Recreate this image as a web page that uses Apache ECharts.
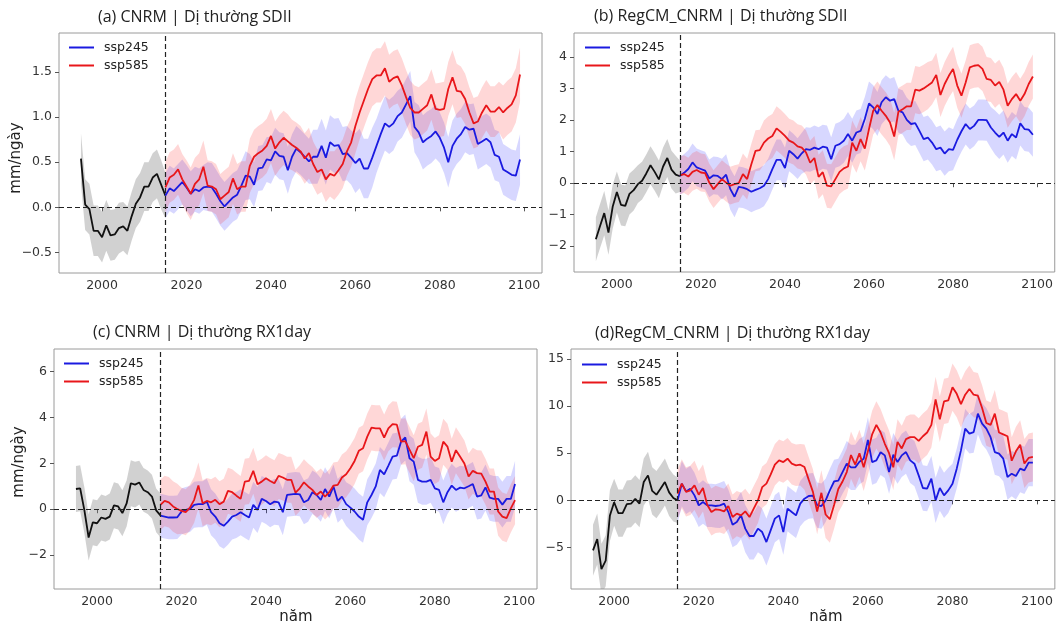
<!DOCTYPE html>
<html><head><meta charset="utf-8">
<script src="https://cdn.jsdelivr.net/npm/echarts@6/dist/echarts.min.js"></script>
<style>html,body{margin:0;padding:0;background:#fff}#c{width:1056px;height:625px}</style>
</head><body><div id="c"></div>
<script>
function range(a,b){const r=[];for(let y=a;y<=b;y++)r.push(y);return r;}
const histYears = range(1995, 2015);
const projYears = range(2015, 2099);
const xTicks = [2000, 2020, 2040, 2060, 2080, 2100];

// ---------- (a) CNRM | SDII ----------
const a_hist = [0.54,0.03,-0.02,-0.26,-0.26, -0.33,-0.2,-0.31,-0.3,-0.23, -0.21,-0.26,-0.1,0.04,0.11, 0.23,0.23,0.33,0.37,0.25, 0.13];
const a_ssp245 = [
 0.13,0.21,0.18,0.23,0.28, 0.22,0.15,0.2,0.18,0.22, 0.23,0.22,0.15,0.07,0.01, 0.06,0.11,0.14,0.24,0.35,
 0.34,0.25,0.43,0.44,0.53, 0.52,0.62,0.57,0.56,0.41, 0.56,0.65,0.61,0.56,0.51, 0.56,0.56,0.68,0.55,0.72,
 0.68,0.69,0.59,0.6,0.55, 0.49,0.54,0.43,0.43,0.55, 0.68,0.81,0.93,0.89,0.93, 1.01,1.05,1.14,1.23,0.89,
 0.83,0.72,0.76,0.79,0.84, 0.77,0.66,0.5,0.68,0.76, 0.81,0.89,0.86,0.87,0.7, 0.73,0.76,0.72,0.58,0.56,
 0.42,0.39,0.36,0.35,0.53];
const a_ssp585 = [
 0.22,0.33,0.36,0.42,0.31, 0.23,0.15,0.26,0.31,0.45, 0.24,0.23,0.2,0.09,0.13, 0.17,0.32,0.2,0.23,0.23,
 0.46,0.56,0.6,0.63,0.68, 0.79,0.65,0.72,0.77,0.73, 0.69,0.66,0.62,0.54,0.6, 0.48,0.39,0.42,0.31,0.37,
 0.35,0.41,0.48,0.62,0.72, 0.9,1.05,1.18,1.31,1.42, 1.46,1.46,1.54,1.39,1.43, 1.45,1.35,1.22,1.1,1.05,
 1.05,1.09,1.13,1.25,1.09, 1.08,1.09,1.31,1.44,1.29, 1.28,1.2,1.05,0.93,0.95, 1.05,1.13,1.06,1.06,1.11,
 1.05,1.1,1.14,1.24,1.47];
// half-width of the shaded range, one value per 5-year block
const a_histSpread = [0.28,0.28,0.27,0.27,0.25];
const a_ssp245Spread = [0.25,0.25,0.27,0.27,0.25,0.26,0.25,0.3,0.3,0.33,0.3,0.28,0.3,0.28,0.28,0.28,0.28];
const a_ssp585Spread = [0.28,0.29,0.28,0.28,0.3,0.3,0.28,0.25,0.27,0.3,0.3,0.3,0.28,0.3,0.28,0.28,0.3];
const a_yTicks = [-0.5, 0, 0.5, 1, 1.5];

// ---------- (b) RegCM_CNRM | SDII ----------
const b_hist = [-1.78,-1.36,-0.95,-1.57,-0.75, -0.28,-0.69,-0.72,-0.34,-0.22, -0.03,0.08,0.31,0.57,0.36, 0.12,0.53,0.8,0.43,0.27, 0.22];
const b_ssp245 = [
 0.23,0.33,0.45,0.66,0.5, 0.45,0.4,0.15,0.25,0.23, 0.13,0.27,-0.19,-0.43,-0.12, -0.14,-0.19,-0.27,-0.21,-0.16,
 -0.08,0.13,0.45,0.74,0.74, 0.48,1.03,0.92,0.78,0.95, 1.08,1.06,1.13,1.08,1.16, 1.13,0.76,1.19,1.24,1.35,
 1.56,1.35,1.61,1.66,2.04, 2.53,2.41,2.2,2.57,2.73, 2.62,2.67,2.3,2.25,2.01, 1.88,1.91,1.66,1.4,1.45,
 1.29,1.08,1.13,0.94,1.08, 1.06,1.38,1.65,1.88,1.72, 1.82,2.01,2.01,2.0,1.77, 1.61,1.47,1.61,1.35,1.56,
 1.45,1.9,1.72,1.7,1.54];
const b_ssp585 = [
 0.25,0.29,0.21,0.36,0.42, 0.34,0.32,0.02,-0.19,-0.03, 0.13,0.02,-0.08,-0.03,0.0, 0.29,0.13,0.6,1.03,1.05,
 1.29,1.42,1.5,1.74,1.63, 1.5,1.35,1.29,1.17,1.13, 0.98,0.65,0.8,0.2,0.35, -0.08,-0.1,0.13,0.36,0.47,
 0.53,1.29,1.03,1.4,1.1, 1.72,2.3,2.48,2.3,2.14, 1.93,1.48,2.27,2.35,2.44, 2.44,2.97,2.94,3.01,3.1,
 3.2,3.44,2.8,3.15,3.41, 3.63,3.1,2.78,3.2,3.68, 3.73,3.75,3.63,3.31,3.28, 3.1,3.22,2.97,2.46,2.67,
 2.83,2.62,2.83,3.15,3.39];
const b_histSpread = [0.7,0.65,0.6,0.6,0.5];
const b_ssp245Spread = [0.6,0.6,0.65,0.65,0.65,0.65,0.7,0.7,0.7,0.7,0.7,0.7,0.7,0.65,0.65,0.7,0.7];
const b_ssp585Spread = [0.6,0.6,0.6,0.65,0.7,0.7,0.7,0.7,0.7,0.75,0.75,0.75,0.7,0.7,0.7,0.7,0.7];
const b_yTicks = [-2, -1, 0, 1, 2, 3, 4];

// ---------- (c) CNRM | RX1day ----------
const c_hist = [0.88,0.91,-0.05,-1.23,-0.57, -0.61,-0.36,-0.42,-0.32,0.17, 0.12,-0.17,0.25,1.13,1.07, 1.16,0.84,0.74,0.55,-0.05, -0.27];
const c_ssp245 = [
 -0.28,-0.32,-0.36,-0.36,-0.35, -0.1,-0.03,0.01,0.19,0.22, 0.22,0.33,-0.13,-0.32,-0.61, -0.72,-0.54,-0.32,-0.25,-0.13,
 -0.25,-0.36,0.19,-0.03,0.45, 0.36,0.22,0.33,0.3,-0.13, 0.62,0.65,0.67,0.65,0.3, 0.4,0.74,0.62,0.4,0.88,
 0.55,0.99,0.36,0.55,0.22, 0.07,-0.1,-0.32,-0.46,0.3, 0.62,0.99,1.71,1.52,1.9, 2.29,2.33,2.94,3.12,2.22,
 2.07,1.28,1.2,1.2,1.28, 0.91,0.84,0.3,0.74,1.03, 0.84,0.94,0.91,1.0,1.1, 0.55,0.6,0.95,0.5,0.45,
 0.45,0.2,0.45,0.45,1.1];
const c_ssp585 = [
 0.19,0.36,0.3,0.12,0.01, -0.07,-0.13,0.07,0.41,1.03, 0.26,0.36,0.3,0.41,0.22, 0.33,0.8,0.74,0.59,0.45,
 1.2,1.23,1.67,1.09,1.2, 1.35,1.23,1.13,1.45,1.38, 1.28,1.28,0.72,0.91,1.17, 0.99,0.84,0.62,0.77,0.55,
 0.74,1.03,1.06,1.38,1.52, 1.78,2.1,2.54,2.65,3.16, 3.55,3.52,3.52,3.12,3.52, 3.7,3.68,2.94,2.96,2.59,
 2.22,2.72,2.8,3.38,2.29, 2.1,2.22,2.94,2.72,2.07, 2.57,2.28,1.99,1.42,1.67, 1.57,1.55,1.2,0.77,0.77,
 -0.1,-0.32,-0.39,0.04,0.4];
const c_histSpread = [1.0,1.0,1.0,0.95,0.95];
const c_ssp245Spread = [0.95,1.0,1.0,1.0,1.0,1.0,0.95,0.95,0.95,1.0,1.0,1.0,1.0,0.95,0.95,1.0,1.0];
const c_ssp585Spread = [1.1,1.0,1.0,1.0,1.0,1.0,1.0,1.0,1.0,1.0,1.0,1.0,1.0,1.0,1.0,1.0,1.05];
const c_yTicks = [-2, 0, 2, 4, 6];

// ---------- (d) RegCM_CNRM | RX1day ----------
const d_hist = [-5.3,-4.1,-7.3,-6.4,-1.6, -0.2,-1.35,-1.35,-0.4,-0.35, 0.15,-0.35,1.95,2.65,1.0, 0.6,1.25,1.95,0.85,0.25, 0.0];
const d_ssp245 = [
 0.0,1.77,0.95,1.24,0.53, -0.53,-0.18,-0.53,-0.53,-0.6, -0.53,-0.35,-1.24,-2.58,-2.3, -1.59,-3.0,-3.78,-3.78,-3.0,
 -3.36,-4.42,-3.18,-1.94,-1.59, -3.36,-0.88,-1.24,-1.59,-0.35, 0.18,0.46,0.5,-0.5,-0.6, 0.0,1.06,2.0,2.1,3.0,
 3.9,3.5,3.5,4.1,4.4, 6.4,4.06,4.24,5.1,4.77, 3.0,4.84,4.06,4.77,5.12, 4.24,3.89,2.65,1.31,1.24,
 2.3,0.0,1.31,0.53,1.06, 1.77,3.36,5.3,7.6,7.07, 7.24,9.19,8.13,7.6,6.7, 5.12,4.95,4.42,2.47,2.83,
 2.58,3.36,3.18,4.0,4.0];
const d_ssp585 = [
 0.7,1.77,0.9,1.06,1.59, 0.6,1.31,-0.46,-1.24,-0.95, -1.0,-1.17,-0.6,-1.77,-1.41, -1.59,-1.17,-1.77,-0.88,0.0,
 1.4,1.77,2.72,3.78,4.24, 4.06,4.42,3.89,3.71,3.78, 3.53,2.2,0.9,-1.2,0.8, -1.5,-2.0,-0.5,1.2,2.0,
 3.0,4.8,3.8,5.0,3.5, 5.2,7.0,8.0,7.2,6.0, 5.0,3.5,6.2,5.5,6.5, 6.7,6.7,6.3,6.8,7.2,
 8.0,10.7,8.6,10.5,10.6, 12.0,11.3,10.2,11.2,11.8, 11.2,11.1,9.8,8.2,8.0, 9.2,7.2,7.0,6.8,4.2,
 5.2,5.9,3.9,4.5,4.6];
const d_histSpread = [2.7,2.5,2.5,2.5,2.4];
const d_ssp245Spread = [2.4,2.3,2.4,2.5,2.5,2.4,2.4,2.3,2.4,2.4,2.3,2.4,2.4,2.1,2.2,2.4,2.5];
const d_ssp585Spread = [2.6,2.5,2.4,2.4,2.2,2.2,2.4,2.5,2.5,2.5,2.4,2.4,2.4,2.5,2.4,2.5,2.6];
const d_yTicks = [-5, 0, 5, 10, 15];

// ---------- layout ----------
const TFONT = '"Open Sans", "DejaVu Sans", sans-serif';
const MFONT = '"DejaVu Sans", sans-serif';
const panels = [
  {title:'(a) CNRM | Dị thường SDII', tx:98, ty:17, grid:{left:59,top:33,width:483,height:240}, ymin:-0.727, ymax:1.93, yTicks:a_yTicks, dec:1,
   hist:a_hist, s245:a_ssp245, s585:a_ssp585, hs:a_histSpread, s245s:a_ssp245Spread, s585s:a_ssp585Spread, legX:69, legY:39.5, ylab:{x:16,y:158}},
  {title:'(b) RegCM_CNRM | Dị thường SDII', tx:594, ty:16, grid:{left:574,top:33,width:481,height:239}, ymin:-2.82, ymax:4.77, yTicks:b_yTicks, dec:0,
   hist:b_hist, s245:b_ssp245, s585:b_ssp585, hs:b_histSpread, s245s:b_ssp245Spread, s585s:b_ssp585Spread, legX:585, legY:39.5},
  {title:'(c) CNRM | Dị thường RX1day', tx:93, ty:332, grid:{left:54,top:349,width:483,height:240}, ymin:-3.47, ymax:6.97, yTicks:c_yTicks, dec:0,
   hist:c_hist, s245:c_ssp245, s585:c_ssp585, hs:c_histSpread, s245s:c_ssp245Spread, s585s:c_ssp585Spread, legX:64, legY:355.5, ylab:{x:19,y:462}, xlab:{x:296,y:617}},
  {title:'(d)RegCM_CNRM | Dị thường RX1day', tx:595, ty:333, grid:{left:571,top:349,width:484,height:240}, ymin:-9.4, ymax:16.05, yTicks:d_yTicks, dec:0,
   hist:d_hist, s245:d_ssp245, s585:d_ssp585, hs:d_histSpread, s245s:d_ssp245Spread, s585s:d_ssp585Spread, legX:582, legY:356.5, xlab:{x:826,y:617}}
];

const BLUE = '#1a1ae0', RED = '#e8161a', BLACK = '#111111';
const FILL_GRAY = 'rgba(128,128,128,0.36)', FILL_BLUE = 'rgba(40,40,255,0.19)', FILL_RED = 'rgba(255,40,40,0.19)';

function band(pi, years, mean, spread, color){
  const data = years.map((y,i)=>{const s = spread[Math.floor(i/5)]; return [y, mean[i]-s, mean[i]+s];});
  return {type:'custom', name:'band'+pi, xAxisIndex:pi, yAxisIndex:pi, silent:true, z:1, clip:true, animation:false,
    data, encode:{x:0, y:[1,2]},
    renderItem(params, api){
      if(params.dataIndex !== 0) return null;
      const up=[], lo=[];
      for(let i=0;i<data.length;i++){
        up.push(api.coord([data[i][0], data[i][2]]));
        lo.push(api.coord([data[i][0], data[i][1]]));
      }
      return {type:'polygon', shape:{points: up.concat(lo.reverse())}, style:{fill:color}};
    }};
}
function line(pi, years, vals, color, name, extra){
  return Object.assign({type:'line', name, xAxisIndex:pi, yAxisIndex:pi, data: years.map((y,i)=>[y, vals[i]]),
    showSymbol:false, symbol:'none', lineStyle:{color, width:1.8}, itemStyle:{color}, z:3, silent:true, animation:false}, extra||{});
}

const grids=[], xAxes=[], yAxes=[], series=[], legends=[], graphics=[];
panels.forEach((p,pi)=>{
  grids.push(Object.assign({show:true, borderColor:'#9a9a9a', borderWidth:1, backgroundColor:'transparent'}, p.grid));
  xAxes.push({type:'value', gridIndex:pi, min:1989.8, max:2104.2,
    axisLine:{show:false}, splitLine:{show:false},
    axisTick:{show:true, inside:false, length:4, lineStyle:{color:'#555'}, customValues:xTicks},
    axisLabel:{customValues:xTicks, margin:6, fontFamily:MFONT, fontSize:12.5, color:'#333', formatter:v=>String(v)}});
  yAxes.push({type:'value', gridIndex:pi, min:p.ymin, max:p.ymax,
    axisLine:{show:false}, splitLine:{show:false},
    axisTick:{show:true, inside:false, length:4, lineStyle:{color:'#555'}, customValues:p.yTicks},
    axisLabel:{customValues:p.yTicks, margin:7, fontFamily:MFONT, fontSize:12.5, color:'#333',
      formatter:v=>v.toFixed(p.dec).replace('-', '\u2212')}});
  series.push(band(pi, histYears, p.hist, p.hs, FILL_GRAY));
  series.push(band(pi, projYears, p.s245, p.s245s, FILL_BLUE));
  series.push(band(pi, projYears, p.s585, p.s585s, FILL_RED));
  series.push(line(pi, histYears, p.hist, BLACK, 'historical', {
    markLine:{silent:true, symbol:'none', animation:false, label:{show:false},
      lineStyle:{color:'#222', type:[5,3], width:1.2},
      data:[{yAxis:0},{xAxis:2015}]}}));
  series.push(line(pi, projYears, p.s245, BLUE, 'ssp245'));
  series.push(line(pi, projYears, p.s585, RED, 'ssp585'));
  legends.push({left:p.legX, top:p.legY, padding:0, orient:'vertical', icon:'rect', itemWidth:25, itemHeight:2, itemGap:2,
    selectedMode:false, data:['ssp245','ssp585'],
    textStyle:{fontFamily:MFONT, fontSize:12.5, color:'#222', padding:[0,0,0,5], lineHeight:16}});
  graphics.push({type:'text', x:p.tx, y:p.ty, silent:true,
    style:{text:p.title, font:'16px '+TFONT, fill:'#222', verticalAlign:'middle', textVerticalAlign:'middle'}});
  if(p.ylab) graphics.push({type:'text', x:p.ylab.x, y:p.ylab.y, rotation:Math.PI/2, silent:true,
    style:{text:'mm/ngày', font:'15px '+MFONT, fill:'#222', align:'center', textAlign:'center', verticalAlign:'middle', textVerticalAlign:'middle'}});
  if(p.xlab) graphics.push({type:'text', x:p.xlab.x, y:p.xlab.y, silent:true,
    style:{text:'năm', font:'15px '+MFONT, fill:'#222', align:'center', textAlign:'center', verticalAlign:'middle', textVerticalAlign:'middle'}});
});

const chart = echarts.init(document.getElementById('c'), null, {renderer:'canvas'});
chart.setOption({animation:false, backgroundColor:'#fff', grid:grids, xAxis:xAxes, yAxis:yAxes, series, legend:legends, graphic:graphics});
</script></body></html>
